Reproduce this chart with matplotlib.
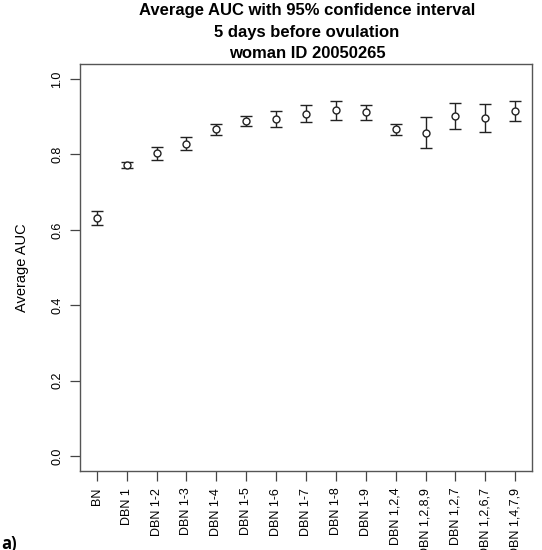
import matplotlib
matplotlib.use('Agg')
import matplotlib.pyplot as plt
import numpy as np

plt.rcParams['font.family'] = ['Liberation Sans', 'DejaVu Sans']

# models compared, mean AUC and 95% confidence bounds
models = ['BN', 'DBN 1', 'DBN 1-2', 'DBN 1-3', 'DBN 1-4', 'DBN 1-5', 'DBN 1-6',
          'DBN 1-7', 'DBN 1-8', 'DBN 1-9', 'DBN 1,2,4', 'DBN 1,2,8,9',
          'DBN 1,2,7', 'DBN 1,2,6,7', 'DBN 1,4,7,9']
auc_mean = [0.631, 0.773, 0.803, 0.829, 0.867, 0.890, 0.895, 0.908,
            0.917, 0.912, 0.867, 0.858, 0.902, 0.897, 0.916]
auc_low = [0.613, 0.765, 0.785, 0.812, 0.851, 0.876, 0.872, 0.885,
           0.891, 0.892, 0.851, 0.817, 0.867, 0.859, 0.888]
auc_high = [0.649, 0.780, 0.819, 0.845, 0.881, 0.903, 0.915, 0.931,
            0.941, 0.931, 0.881, 0.899, 0.937, 0.933, 0.943]
y_ticks = [0.0, 0.2, 0.4, 0.6, 0.8, 1.0]
title_lines = ['Average AUC with 95% confidence interval',
               '5 days before ovulation',
               'woman ID 20050265']

x = np.arange(1, len(models) + 1)
mean = np.array(auc_mean)
err = [mean - np.array(auc_low), np.array(auc_high) - mean]

fig = plt.figure(figsize=(5.42, 5.5), dpi=100)
ax = fig.add_axes([80 / 542, 1 - 471 / 550, 452 / 542, 407 / 550])

ax.errorbar(x, mean, yerr=err, fmt='o', mfc='white', mec='#222222', ms=5.0,
            mew=1.0, ecolor='#222222', elinewidth=1.0, capsize=4.2, capthick=1.0)

# R-style axis ranges (4% padding)
ax.set_xlim(1 - 0.04 * 14, 15 + 0.04 * 14)
ax.set_ylim(-0.04, 1.04)
ax.set_xticks(x)
ax.set_xticklabels(models, rotation=90, fontsize=9)
ax.set_yticks(y_ticks)
ax.set_yticklabels(['%.1f' % t for t in y_ticks], rotation=90, va='center', fontsize=9)
ax.tick_params(length=7, width=0.9, color='#444444', pad=5)
for s in ax.spines.values():
    s.set_color('#555555')
    s.set_linewidth(1.0)

ax.set_ylabel('Average AUC', fontsize=10.5)
ax.yaxis.set_label_coords(-0.112, 0.5)

# three-line title centred over the plot region
for i, line in enumerate(title_lines):
    fig.text(307 / 542, 1 - (14.5 + 22 * i) / 550, line,
             ha='center', va='baseline', fontsize=12, fontweight='bold')

fig.text(0.002, 1 - 544 / 550, 'a)', ha='left', va='center', fontsize=12,
         fontweight='bold', family=['Open Sans', 'DejaVu Sans'])

fig.savefig('out.png', dpi=100)
